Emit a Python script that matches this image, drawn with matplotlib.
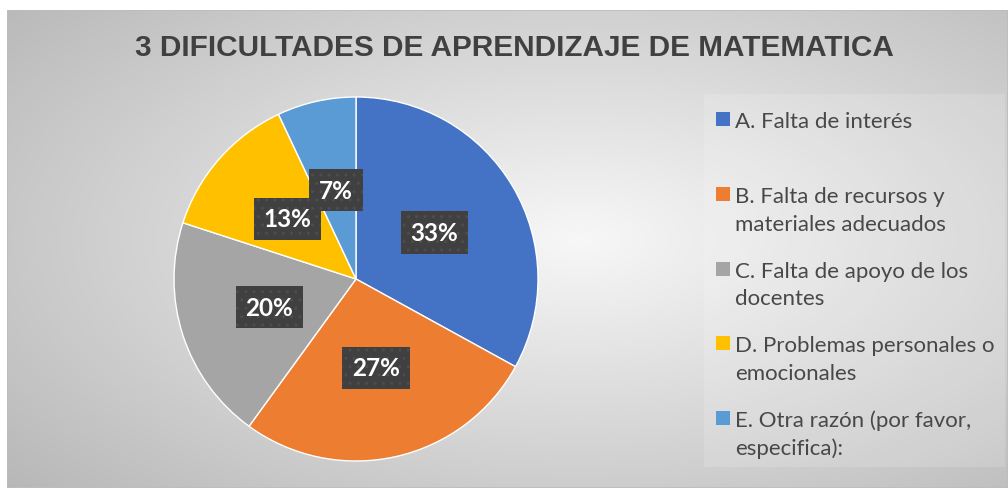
import matplotlib.pyplot as plt
import numpy as np
from matplotlib.patches import Rectangle

categories = ['A. Falta de interés',
              'B. Falta de recursos y\nmateriales adecuados',
              'C. Falta de apoyo de los\ndocentes',
              'D. Problemas personales o\nemocionales',
              'E. Otra razón (por favor,\nespecifica):']
values = [33, 27, 20, 13, 7]
colors = ['#4472C4', '#ED7D31', '#A5A5A5', '#FFC000', '#5B9BD5']
title = '3 DIFICULTADES DE APRENDIZAJE DE MATEMATICA'

W, H = 1008, 489
fig = plt.figure(figsize=(W / 100, H / 100), dpi=100)

# chart area background, radial gradient (Excel style)
bg = fig.add_axes([7 / W, 0, 1 - 7 / W, 1 - 11 / H])
bg.set_zorder(0)
xx, yy = np.meshgrid(np.linspace(7, W, 400), np.linspace(11, H, 200))
d = np.sqrt(((xx - 580) / 520) ** 2 + ((yy - 240) / 255) ** 2)
v = np.clip(0.97 - 0.17 * d, 0, 1)
bg.imshow(np.dstack([v, v, v]), extent=[0, 1, 0, 1], aspect='auto', origin='upper')
bg.add_patch(Rectangle((0, 0), 1, 1, fill=False, edgecolor='#bdbdbd', lw=1.2))
# legend area slightly lighter
bg.add_patch(Rectangle(((704 - 7) / (W - 7), (H - 468) / (H - 11)),
                       (1005 - 704) / (W - 7), (468 - 95) / (H - 11),
                       facecolor='white', alpha=0.15, lw=0))
bg.set_xlim(0, 1)
bg.set_ylim(0, 1)
bg.axis('off')

# pie
cx, cy, r = 356, 280, 182
ax = fig.add_axes([(cx - r) / W, (H - cy - r) / H, 2 * r / W, 2 * r / H])
ax.set_zorder(1)
wedges, texts, autotexts = ax.pie(values, colors=colors, startangle=90, counterclock=False,
                                  autopct='%1.0f%%', pctdistance=0.5,
                                  wedgeprops=dict(edgecolor='white', linewidth=1))
ax.set_xlim(-1, 1)
ax.set_ylim(-1, 1)
for t in autotexts:
    t.set_fontfamily('Lato')
    t.set_fontweight('bold')
    t.set_fontsize(17.5)
    t.set_color('white')
    t.set_bbox(dict(boxstyle='square,pad=0.4', facecolor='#404040', edgecolor='#4d4d4d',
                    linewidth=0, hatch='..'))

# title
fig.text(514 / W, 1 - 48 / H, title, ha='center', va='center', fontsize=21.4,
         fontweight='bold', family='Liberation Sans', color='#404040')

# legend, drawn by hand to keep Excel layout
y0, pitch, lh = 120, 74.75, 28
for i, (lab, c) in enumerate(zip(categories, colors)):
    yc = y0 + i * pitch
    fig.add_artist(Rectangle((716 / W, 1 - (yc + 7) / H), 14 / W, 14 / H,
                             facecolor=c, edgecolor='none', transform=fig.transFigure))
    for j, line in enumerate(lab.split('\n')):
        fig.text(735 / W, 1 - (yc + j * lh) / H, line, ha='left', va='center_baseline',
                 fontsize=16, family='Lato', color='#484848')

fig.savefig('out.png', dpi=100)
